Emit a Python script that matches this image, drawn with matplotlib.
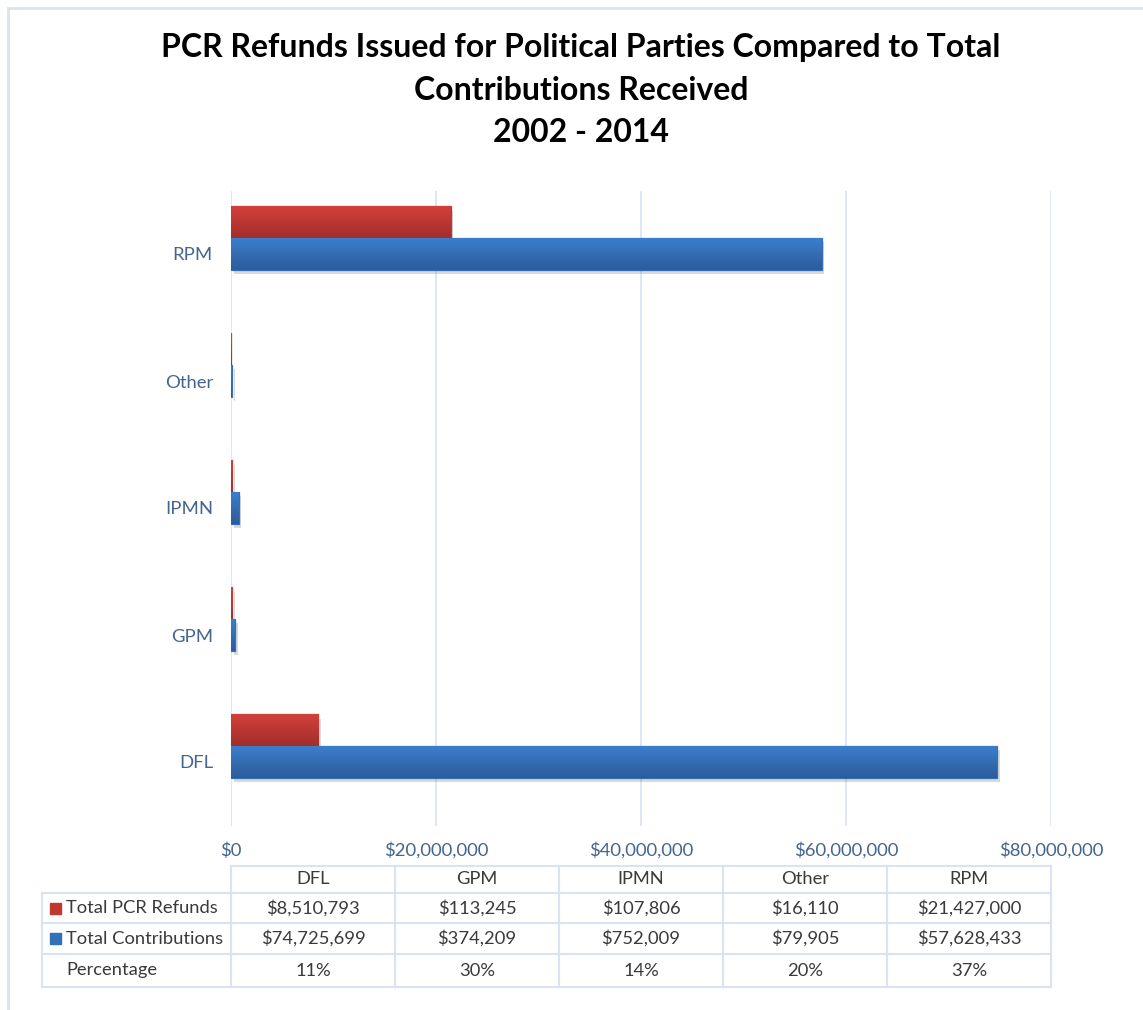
"""PCR refunds vs total contributions, horizontal bars with a data table below."""
import matplotlib.pyplot as plt
import numpy as np
from matplotlib import patheffects
from matplotlib.colors import LinearSegmentedColormap
from matplotlib.lines import Line2D
from matplotlib.patches import Rectangle
from matplotlib.ticker import FuncFormatter

plt.rcParams["font.family"] = ["Lato", "DejaVu Sans"]

parties = ["DFL", "GPM", "IPMN", "Other", "RPM"]
refunds = [8510793, 113245, 107806, 16110, 21427000]
contributions = [74725699, 374209, 752009, 79905, 57628433]
percentages = [11, 30, 14, 20, 37]
series_names = ["Total PCR Refunds", "Total Contributions", "Percentage"]
x_ticks = [0, 20000000, 40000000, 60000000, 80000000]

W, H = 1143, 1010
AXIS_BLUE = "#44658f"
TABLE_TEXT = "#3a3a3a"
GRID = "#d9e3f2"
RED = "#c0392f"
BLUE = "#3470b8"


def fx(x):
    return x / W


def fy(y):
    return 1 - y / H


fig = plt.figure(figsize=(W / 100, H / 100), dpi=100)

# outer frame (only top and left edges visible in the original)
fig.add_artist(Line2D([fx(8), fx(8)], [fy(8), 0], color=GRID, lw=2))
fig.add_artist(Line2D([fx(8), 1], [fy(8), fy(8)], color=GRID, lw=2))

title_lines = ["PCR Refunds Issued for Political Parties Compared to Total",
               "Contributions Received", "2002 - 2014"]
for line, ypx in zip(title_lines, [48, 91, 133]):
    fig.text(fx(581), fy(ypx), line, ha="center", va="center", fontsize=23,
             fontweight="bold", color="black")

ax = fig.add_axes([fx(231), fy(825.5), fx(1051) - fx(231), fy(190.5) - fy(825.5)])

# three series per category in the source (percentage bar is too small to show),
# so refunds sit one slot above the category line and contributions on it
y = np.arange(len(parties))
h = 0.25
red_cmap = LinearSegmentedColormap.from_list("r", ["#d2403c", "#a22e2b"])
blue_cmap = LinearSegmentedColormap.from_list("b", ["#3c7ecb", "#2c5c9c"])
grad = np.linspace(0, 1, 50).reshape(-1, 1)

shadow = [patheffects.SimplePatchShadow(offset=(2, -3), alpha=0.22, shadow_rgbFace="#555555"),
          patheffects.Normal()]

for vals, offset, color, cmap in [(refunds, h, RED, red_cmap),
                                  (contributions, 0, BLUE, blue_cmap)]:
    bars = ax.barh(y + offset, vals, height=h, color=color, edgecolor=color, linewidth=0.9,
                   zorder=3)
    for bar in bars:
        bar.set_path_effects(shadow)
        x0, y0 = bar.get_x(), bar.get_y()
        bw, bh = bar.get_width(), bar.get_height()
        im = ax.imshow(grad, cmap=cmap, aspect="auto", extent=(x0, x0 + bw, y0, y0 + bh),
                       origin="upper", zorder=4)
        im.set_clip_path(bar)

ax.set_xlim(0, 80000000)
ax.set_ylim(-0.5, len(parties) - 0.5)
ax.set_xticks(x_ticks)
ax.xaxis.set_major_formatter(FuncFormatter(lambda v, p: f"${v:,.0f}"))
ax.set_yticks(y)
ax.set_yticklabels(parties)
ax.tick_params(axis="both", length=0, labelsize=13.3, colors=AXIS_BLUE)
ax.tick_params(axis="x", pad=12)
ax.tick_params(axis="y", pad=13)
ax.grid(axis="x", color=GRID, lw=1.2, zorder=0)
for s in ax.spines.values():
    s.set_visible(False)

# data table below the chart
col_edges = [231, 395, 559, 723, 887, 1051]
row_edges = [866, 893, 923, 954, 987]
lc = dict(color=GRID, lw=1.5)
# header row (no label cell)
fig.add_artist(Line2D([fx(231), fx(1051)], [fy(866), fy(866)], **lc))
for r in row_edges[1:]:
    fig.add_artist(Line2D([fx(42), fx(1051)], [fy(r), fy(r)], **lc))
fig.add_artist(Line2D([fx(42), fx(42)], [fy(893), fy(987)], **lc))
for c in col_edges:
    fig.add_artist(Line2D([fx(c), fx(c)], [fy(866), fy(987)], **lc))

fs = 13.2
for i, party in enumerate(parties):
    cx = fx((col_edges[i] + col_edges[i + 1]) / 2)
    cells = [party, f"${refunds[i]:,}", f"${contributions[i]:,}", f"{percentages[i]}%"]
    for k, txt in enumerate(cells):
        fig.text(cx, fy((row_edges[k] + row_edges[k + 1]) / 2), txt,
                 ha="center", va="center", fontsize=fs, color=TABLE_TEXT)

# row labels with legend keys
for k, (name, key) in enumerate(zip(series_names, [RED, BLUE, None])):
    ymid = (row_edges[k + 1] + row_edges[k + 2]) / 2
    if key is not None:
        fig.add_artist(Rectangle((fx(50), fy(ymid + 5.5)), fx(11), 11 / H,
                                 transform=fig.transFigure, color=key))
    fig.text(fx(66), fy(ymid), name, ha="left", va="center", fontsize=fs, color=TABLE_TEXT)

fig.savefig("out.png", dpi=100)
